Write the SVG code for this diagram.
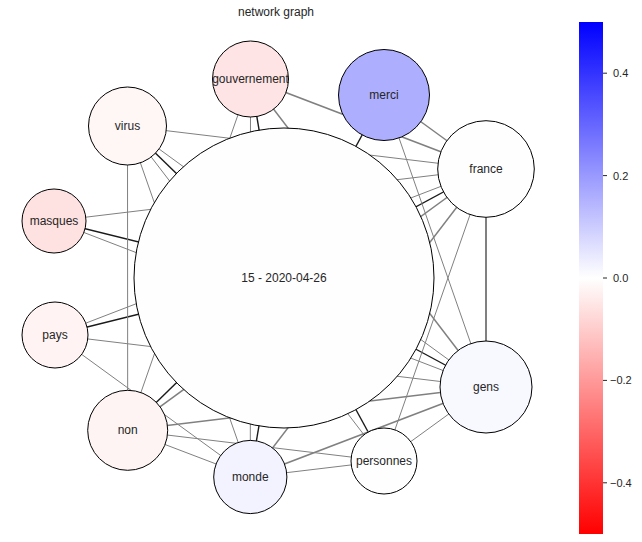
<svg xmlns="http://www.w3.org/2000/svg" width="642" height="542" viewBox="0 0 642 542">
  <defs>
    <linearGradient id="bwr" x1="0" y1="0" x2="0" y2="1">
      <stop offset="0" stop-color="#0000ff"/>
      <stop offset="0.5" stop-color="#ffffff"/>
      <stop offset="1" stop-color="#ff0000"/>
    </linearGradient>
    <style>
      .node circle { stroke: #000000; stroke-width: 1; }
      .node text { font-family: "Liberation Sans", Arial, sans-serif; font-size: 12px; fill: #262626; text-anchor: middle; dominant-baseline: central; }
      .edges line { stroke: #808080; stroke-width: 1; }
      .edges line.hub { stroke: #1a1a1a; stroke-width: 1.4; }
      .edges line.w2 { stroke-width: 1.5; }
      .edges line.w3 { stroke-width: 2; }
      .title { font-family: "Liberation Sans", Arial, sans-serif; font-size: 12px; fill: #262626; text-anchor: middle; }
      .tick { stroke: #262626; stroke-width: 1; }
      .ticklabel { font-family: "Liberation Sans", Arial, sans-serif; font-size: 11px; fill: #262626; dominant-baseline: central; }
    </style>
  </defs>
  <rect width="642" height="542" fill="#ffffff"/>

  <text class="title" x="276" y="16">network graph</text>

  <!-- connectors -->
  <g id="edges" class="edges">
    <!-- links to the central node -->
    <line class="hub" x1="284" y1="278" x2="250.5" y2="79"/>
    <line class="hub" x1="284" y1="278" x2="384" y2="95"/>
    <line class="hub" x1="284" y1="278" x2="486" y2="169"/>
    <line class="hub" x1="284" y1="278" x2="486" y2="387"/>
    <line class="hub" x1="284" y1="278" x2="384" y2="461"/>
    <line class="hub" x1="284" y1="278" x2="250.3" y2="477"/>
    <line class="hub" x1="284" y1="278" x2="127.7" y2="430.3"/>
    <line class="hub" x1="284" y1="278" x2="55" y2="335"/>
    <line class="hub" x1="284" y1="278" x2="54" y2="221"/>
    <line class="hub" x1="284" y1="278" x2="127.5" y2="126"/>
    <!-- gouvernement -->
    <line class="w2" x1="250.5" y1="79" x2="486" y2="169"/>
    <line x1="250.5" y1="79" x2="250.3" y2="477"/>
    <line class="w2" x1="250.5" y1="79" x2="486" y2="387"/>
    <line x1="250.5" y1="79" x2="127.7" y2="430.3"/>
    <!-- merci -->
    <line class="w2" x1="384" y1="95" x2="486" y2="169"/>
    <line x1="384" y1="95" x2="486" y2="387"/>
    <!-- virus -->
    <line x1="127.5" y1="126" x2="486" y2="169"/>
    <line x1="127.5" y1="126" x2="486" y2="387"/>
    <line x1="127.5" y1="126" x2="127.7" y2="430.3"/>
    <line x1="127.5" y1="126" x2="250.3" y2="477"/>
    <line x1="127.5" y1="126" x2="384" y2="461"/>
    <!-- masques -->
    <line x1="54" y1="221" x2="486" y2="169"/>
    <line x1="54" y1="221" x2="486" y2="387"/>
    <!-- pays -->
    <line x1="55" y1="335" x2="486" y2="169"/>
    <line x1="55" y1="335" x2="486" y2="387"/>
    <line x1="55" y1="335" x2="250.3" y2="477"/>
    <!-- non -->
    <line class="w2" x1="127.7" y1="430.3" x2="486" y2="169"/>
    <line class="w2" x1="127.7" y1="430.3" x2="486" y2="387"/>
    <line x1="127.7" y1="430.3" x2="384" y2="461"/>
    <line x1="127.7" y1="430.3" x2="250.3" y2="477"/>
    <!-- monde -->
    <line class="w2" x1="250.3" y1="477" x2="486" y2="169"/>
    <line class="w2" x1="250.3" y1="477" x2="486" y2="387"/>
    <line x1="250.3" y1="477" x2="384" y2="461"/>
    <!-- personnes -->
    <line x1="384" y1="461" x2="486" y2="387"/>
    <line x1="384" y1="461" x2="486" y2="169"/>
    <!-- france / gens -->
    <line class="w3" x1="486" y1="169" x2="486" y2="387"/>
  </g>

  <!-- nodes -->
  <g id="node-center" class="node">
    <circle cx="284" cy="278" r="150" fill="#fefefe"/>
    <text x="284" y="278">15 - 2020-04-26</text>
  </g>
  <g id="node-gouvernement" class="node">
    <circle cx="250.5" cy="79" r="38" fill="#fee4e4"/>
    <text x="250.5" y="79">gouvernement</text>
  </g>
  <g id="node-merci" class="node">
    <circle cx="384" cy="95" r="45.5" fill="#aeaeff"/>
    <text x="384" y="95">merci</text>
  </g>
  <g id="node-france" class="node">
    <circle cx="486" cy="169" r="48.3" fill="#fefefe"/>
    <text x="486" y="169">france</text>
  </g>
  <g id="node-gens" class="node">
    <circle cx="486" cy="387" r="46" fill="#f8f8ff"/>
    <text x="486" y="387">gens</text>
  </g>
  <g id="node-personnes" class="node">
    <circle cx="384" cy="461" r="33" fill="#fefeff"/>
    <text x="384" y="461">personnes</text>
  </g>
  <g id="node-monde" class="node">
    <circle cx="250.3" cy="477" r="36.6" fill="#f3f3ff"/>
    <text x="250.3" y="477">monde</text>
  </g>
  <g id="node-non" class="node">
    <circle cx="127.7" cy="430.3" r="40" fill="#fff4f4"/>
    <text x="127.7" y="430.3">non</text>
  </g>
  <g id="node-pays" class="node">
    <circle cx="55" cy="335" r="33" fill="#fff3f3"/>
    <text x="55" y="335">pays</text>
  </g>
  <g id="node-masques" class="node">
    <circle cx="54" cy="221" r="32" fill="#fee1e1"/>
    <text x="54" y="221">masques</text>
  </g>
  <g id="node-virus" class="node">
    <circle cx="127.5" cy="126" r="39" fill="#fff6f6"/>
    <text x="127.5" y="126">virus</text>
  </g>

  <!-- colour bar -->
  <g id="colorbar">
    <rect x="579" y="22" width="24" height="512" fill="url(#bwr)"/>
    <line class="tick" x1="603" y1="73.2" x2="607" y2="73.2"/>
    <line class="tick" x1="603" y1="175.6" x2="607" y2="175.6"/>
    <line class="tick" x1="603" y1="278" x2="607" y2="278"/>
    <line class="tick" x1="603" y1="380.4" x2="607" y2="380.4"/>
    <line class="tick" x1="603" y1="482.8" x2="607" y2="482.8"/>
    <text class="ticklabel" x="613" y="73.2">0.4</text>
    <text class="ticklabel" x="613" y="175.6">0.2</text>
    <text class="ticklabel" x="613" y="278">0.0</text>
    <text class="ticklabel" x="610" y="380.4">−0.2</text>
    <text class="ticklabel" x="610" y="482.8">−0.4</text>
  </g>
</svg>
